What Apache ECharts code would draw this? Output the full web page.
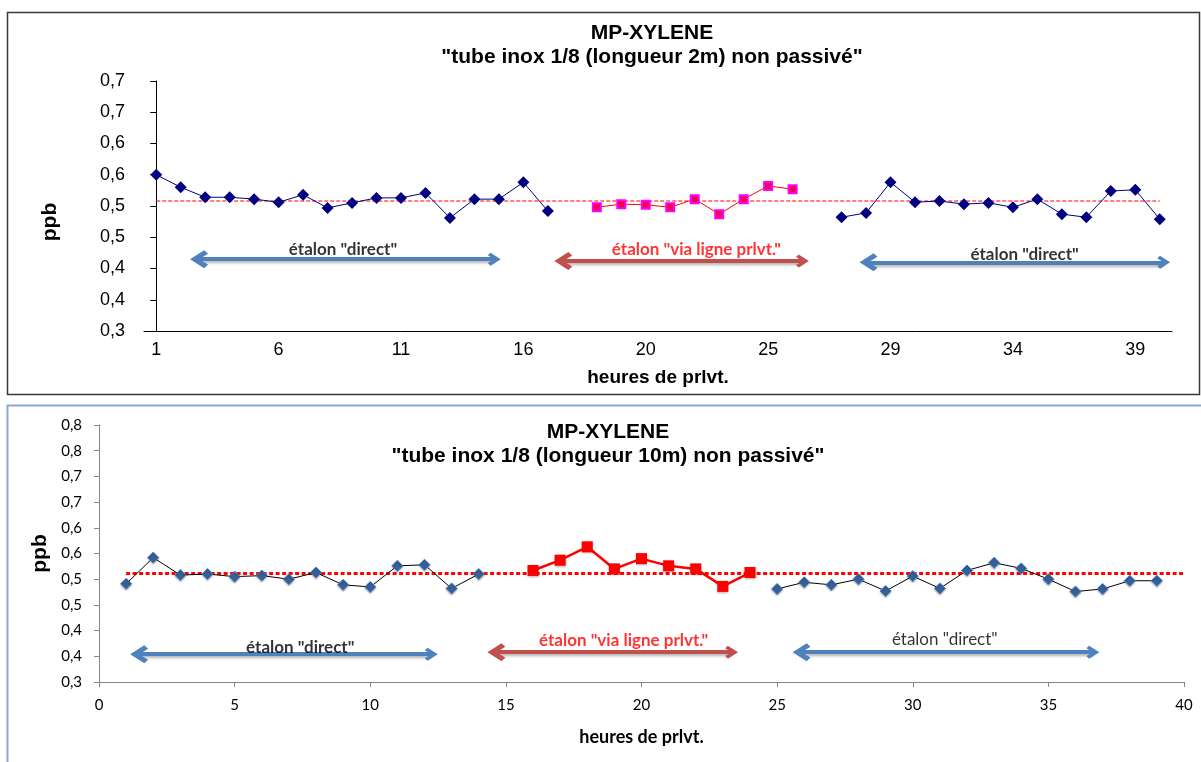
<!DOCTYPE html>
<html>
<head>
<meta charset="utf-8">
<script src="https://cdn.jsdelivr.net/npm/echarts@6/dist/echarts.min.js"></script>
<style>
html, body { margin: 0; padding: 0; background: #fff; }
#chart { width: 1201px; height: 762px; }
</style>
</head>
<body>
<div id="chart"></div>
<script>
// ---- top chart (tube 2m): category axis, blank slot between the runs
const hoursTop = ['1','2','3','4','5','6','7','8','9','10','11','12','13','14','15','16','17','',
  '18','19','20','21','22','23','24','25','26','',
  '27','28','29','30','31','32','33','34','35','36','37','38','39','40'];
const directTop1 = [0.550, 0.530, 0.514, 0.514, 0.511, 0.506, 0.518, 0.497, 0.505, 0.513, 0.513, 0.521, 0.481, 0.511, 0.511, 0.538, 0.492];
const viaTop = [0.498, 0.503, 0.502, 0.498, 0.511, 0.487, 0.511, 0.532, 0.527];
const directTop2 = [0.482, 0.489, 0.538, 0.506, 0.508, 0.503, 0.505, 0.498, 0.511, 0.487, 0.482, 0.524, 0.526, 0.479];
const refTop = 0.508;

// ---- bottom chart (tube 10m): value axis
const hoursDirectBot1 = [1,2,3,4,5,6,7,8,9,10,11,12,13,14];
const directBot1 = [0.491, 0.542, 0.508, 0.510, 0.505, 0.507, 0.500, 0.513, 0.489, 0.485, 0.526, 0.528, 0.482, 0.510];
const hoursViaBot = [16,17,18,19,20,21,22,23,24];
const viaBot = [0.517, 0.537, 0.563, 0.520, 0.540, 0.526, 0.520, 0.486, 0.513];
const hoursDirectBot2 = [25,26,27,28,29,30,31,32,33,34,35,36,37,38,39];
const directBot2 = [0.481, 0.494, 0.489, 0.500, 0.477, 0.506, 0.482, 0.517, 0.532, 0.521, 0.500, 0.476, 0.481, 0.497, 0.497];
const refBot = 0.511;

// annotations (data space): [xFrom, xTo, y]
const arrowsTop = [[1.75, 13.81, 0.415, '#4F81BD'], [16.63, 26.40, 0.412, '#C0504D'], [29.1, 41.16, 0.410, '#4F81BD']];
const notesTop = [[7.63, 0.430, 'étalon "direct"', '#000', 'bold'], [22.07, 0.431, 'étalon "via ligne prlvt."', '#FF0000', 'bold'], [35.48, 0.422, 'étalon "direct"', '#000', 'bold']];
const arrowsBot = [[1.48, 12.25, 0.354, '#4F81BD'], [14.65, 23.32, 0.358, '#C0504D'], [25.9, 36.64, 0.358, '#4F81BD']];
const notesBot = [[7.42, 0.368, 'étalon "direct"', '#000', 'bold'], [19.34, 0.380, 'étalon "via ligne prlvt."', '#FF0000', 'bold'], [31.18, 0.382, 'étalon "direct"', '#000', 'normal']];

const chevron = 'path://M10,0 L20,11 L16,14 L10,7 L4,14 L0,11 Z';
const fmtY = v => (Math.round(v * 10 + 1e-6) / 10).toFixed(1).replace('.', ',');
const pad = (n) => Array(n).fill('-');

const directTop = [...directTop1, ...pad(11), ...directTop2];
const viaTopFull = [...pad(18), ...viaTop, ...pad(15)];

const arrowSeries = (arr, xi) => ({
  type: 'lines', coordinateSystem: 'cartesian2d', xAxisIndex: xi, yAxisIndex: xi === 1 ? 0 : 1,
  silent: true, symbol: [chevron, chevron], symbolSize: [18, 13], z: 5,
  data: arr.map(a => ({
    coords: [[a[0], a[2]], [a[1], a[2]]],
    lineStyle: { color: a[3], width: 4, opacity: 1, shadowBlur: 3, shadowColor: 'rgba(0,0,0,0.3)', shadowOffsetY: 2 }
  }))
});
const noteSeries = (arr, xi, size) => ({
  type: 'scatter', xAxisIndex: xi, yAxisIndex: xi === 1 ? 0 : 1, silent: true, symbolSize: 1, z: 6,
  itemStyle: { color: 'rgba(0,0,0,0)' },
  data: arr.map(a => ({
    value: [a[0], a[1], a[2]],
    label: { color: a[3], fontWeight: a[4] }
  })),
  label: { show: true, position: 'inside', formatter: p => p.data.value[2], fontFamily: 'Lato', fontSize: size }
});

const chart = echarts.init(document.getElementById('chart'));
const option = {
  animation: false,
  backgroundColor: '#fff',
  title: [
    { text: 'MP-XYLENE\n"tube inox 1/8 (longueur 2m) non passivé"', left: 647, top: 16, textAlign: 'center',
      textStyle: { fontFamily: 'Liberation Sans', fontSize: 21, fontWeight: 'bold', color: '#000', lineHeight: 24 } },
    { text: 'MP-XYLENE\n"tube inox 1/8 (longueur 10m) non passivé"', left: 603, top: 415, textAlign: 'center',
      textStyle: { fontFamily: 'Liberation Sans', fontSize: 21, fontWeight: 'bold', color: '#000', lineHeight: 24 } }
  ],
  graphic: [
    { type: 'rect', shape: { x: 7.5, y: 12.5, width: 1192, height: 382 }, style: { fill: 'none', stroke: '#3a3a3a', lineWidth: 1.5 }, silent: true },
    { type: 'rect', shape: { x: 7.5, y: 405.5, width: 1200, height: 400 }, style: { fill: 'none', stroke: '#8EA9D5', lineWidth: 2 }, silent: true }
  ],
  grid: [
    { left: 144, top: 81, width: 1028, height: 250, outerBoundsMode: 'none' },
    { left: 99, top: 425, width: 1085, height: 257, outerBoundsMode: 'none' }
  ],
  xAxis: [
    { type: 'category', gridIndex: 0, data: hoursTop, boundaryGap: true,
      axisLine: { lineStyle: { color: '#000' } },
      axisTick: { interval: 4, length: 6, lineStyle: { color: '#000' } },
      axisLabel: { interval: 4, color: '#000', fontSize: 18, fontFamily: 'Liberation Sans', margin: 10 },
      splitLine: { show: false },
      name: 'heures de prlvt.', nameLocation: 'middle', nameGap: 37,
      nameTextStyle: { fontFamily: 'Liberation Sans', fontSize: 19, fontWeight: 'bold', color: '#000' } },
    { type: 'value', gridIndex: 0, min: -0.5, max: 41.5, show: false },
    { type: 'value', gridIndex: 1, min: 0, max: 40, interval: 5,
      axisLine: { show: true, lineStyle: { color: '#868686' } },
      axisTick: { show: true, length: 5, lineStyle: { color: '#868686' } },
      axisLabel: { color: '#000', fontSize: 15, fontFamily: 'Lato', margin: 16 },
      splitLine: { show: false },
      name: 'heures de prlvt.', nameLocation: 'middle', nameGap: 46,
      nameTextStyle: { fontFamily: 'Lato', fontSize: 18, fontWeight: 'bold', color: '#000' } }
  ],
  yAxis: [
    { type: 'value', gridIndex: 0, min: 0.3, max: 0.7, interval: 0.05,
      axisLine: { show: true, lineStyle: { color: '#000' } },
      axisTick: { show: true, length: 6, lineStyle: { color: '#000' } },
      axisLabel: { formatter: fmtY, color: '#000', fontSize: 18, fontFamily: 'Liberation Sans', margin: 19 },
      splitLine: { show: false },
      name: 'ppb', nameLocation: 'middle', nameRotate: 90, nameGap: 83,
      nameTextStyle: { fontFamily: 'Liberation Sans', fontSize: 21, fontWeight: 'bold', color: '#000', padding: [0, 32, 0, 0] } },
    { type: 'value', gridIndex: 1, min: 0.3, max: 0.8, interval: 0.05,
      axisLine: { show: true, lineStyle: { color: '#868686' } },
      axisTick: { show: true, length: 5, lineStyle: { color: '#868686' } },
      axisLabel: { formatter: fmtY, color: '#000', fontSize: 15, fontFamily: 'Lato', margin: 17 },
      splitLine: { show: false },
      name: 'ppb', nameLocation: 'middle', nameRotate: 90, nameGap: 45,
      nameTextStyle: { fontFamily: 'Liberation Sans', fontSize: 21, fontWeight: 'bold', color: '#000' } }
  ],
  series: [
    // top
    { type: 'line', xAxisIndex: 1, yAxisIndex: 0, data: [[0, refTop], [41, refTop]], symbol: 'none', silent: true,
      lineStyle: { color: '#FF0000', width: 1, type: [4, 2] } },
    { type: 'line', xAxisIndex: 0, yAxisIndex: 0, data: directTop, symbol: 'diamond', symbolSize: 12,
      itemStyle: { color: '#000080' }, lineStyle: { color: '#000080', width: 1 } },
    { type: 'line', xAxisIndex: 0, yAxisIndex: 0, data: viaTopFull, symbol: 'rect', symbolSize: 8,
      itemStyle: { color: '#F0004C', borderColor: '#FF00FF', borderWidth: 2 }, lineStyle: { color: '#FF0000', width: 1 } },
    arrowSeries(arrowsTop, 1),
    noteSeries(notesTop, 1, 17),
    // bottom
    { type: 'line', xAxisIndex: 2, yAxisIndex: 1, data: [[1, refBot], [40, refBot]], symbol: 'none', silent: true,
      lineStyle: { color: '#FF0000', width: 3, type: [4, 2.5] } },
    { type: 'line', xAxisIndex: 2, yAxisIndex: 1, data: hoursDirectBot1.map((h, i) => [h, directBot1[i]]),
      symbol: 'diamond', symbolSize: 11,
      itemStyle: { color: '#36609A', borderColor: '#4F81BD', borderWidth: 1, shadowBlur: 2, shadowColor: 'rgba(0,0,0,0.3)', shadowOffsetY: 1 },
      lineStyle: { color: '#000', width: 1 } },
    { type: 'line', xAxisIndex: 2, yAxisIndex: 1, data: hoursViaBot.map((h, i) => [h, viaBot[i]]),
      symbol: 'rect', symbolSize: 11,
      itemStyle: { color: '#FF0000', shadowBlur: 2, shadowColor: 'rgba(0,0,0,0.3)', shadowOffsetY: 1 },
      lineStyle: { color: '#FF0000', width: 2.5 } },
    { type: 'line', xAxisIndex: 2, yAxisIndex: 1, data: hoursDirectBot2.map((h, i) => [h, directBot2[i]]),
      symbol: 'diamond', symbolSize: 11,
      itemStyle: { color: '#36609A', borderColor: '#4F81BD', borderWidth: 1, shadowBlur: 2, shadowColor: 'rgba(0,0,0,0.3)', shadowOffsetY: 1 },
      lineStyle: { color: '#000', width: 1 } },
    arrowSeries(arrowsBot, 2),
    noteSeries(notesBot, 2, 17)
  ]
};
chart.setOption(option);
</script>
</body>
</html>
